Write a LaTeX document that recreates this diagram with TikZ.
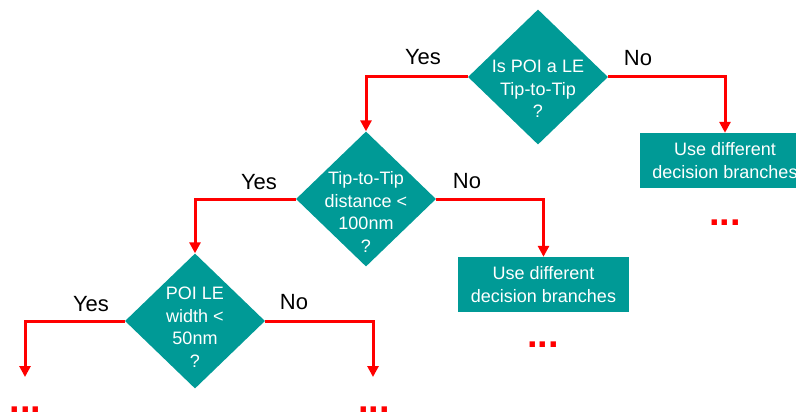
\documentclass[tikz,border=0pt]{standalone}
\usepackage{fontspec}
\setmainfont{Liberation Sans}
\usetikzlibrary{shapes.geometric,arrows.meta}
\definecolor{flowteal}{HTML}{009A96}
\definecolor{flowred}{HTML}{FF0000}
\begin{document}
\begin{tikzpicture}[x=1pt,y=-1pt,
  decision/.style={diamond, fill=flowteal, minimum width=140pt, minimum height=135pt, inner sep=0pt},
  qtext/.style={text=white, font=\fontsize{18}{22.5}\selectfont, align=center},
  outcome/.style={rectangle, fill=flowteal, minimum width=171pt, minimum height=55pt, inner sep=0pt,
    text=white, font=\fontsize{18}{22.5}\selectfont, align=center},
  flow/.style={draw=flowred, line width=3pt, -{Triangle[width=11pt,length=11pt]}},
  answer/.style={font=\fontsize{22}{26}\selectfont, inner sep=0pt},
  more/.style={text=flowred, font=\bfseries\fontsize{38}{38}\selectfont, anchor=base, inner sep=0pt}]
\clip (0,0) rectangle (796,412);

% decision diamonds
\node[decision, label={[qtext, yshift=-12pt]center:Is POI a LE\\Tip-to-Tip\\?}] (q1) at (538,77) {};
\node[decision, label={[qtext, yshift=-13pt]center:Tip-to-Tip\\distance <\\100nm\\?}] (q2) at (366,199) {};
\node[decision, label={[qtext, yshift=-6pt]center:POI LE\\width <\\50nm\\?}] (q3) at (195,321) {};

% outcome boxes
\node[outcome] (b1) at (725,160.5) {Use different\\decision branches};
\node[outcome] (b2) at (543.5,284.5) {Use different\\decision branches};

% open ends of the last decision
\coordinate (e1) at (25,377);
\coordinate (e2) at (373,377);

% connectors
\draw[flow] (q1.east) -| (b1.north);
\draw[flow] (q1.west) -| (q2.north);
\draw[flow] (q2.east) -| (b2.north);
\draw[flow] (q2.west) -| (q3.north);
\draw[flow] (q3.west) -| (e1);
\draw[flow] (q3.east) -| (e2);

% branch answers
\node[answer] (y1) at (423,57) {Yes};
\node[answer] (n1) at (638,58) {No};
\node[answer] (y2) at (259,182) {Yes};
\node[answer] (n2) at (467,181) {No};
\node[answer] (y3) at (91,304) {Yes};
\node[answer] (n3) at (294,302) {No};

% continuation marks
\node[more] (m1) at (725,225.5) {...};
\node[more] (m2) at (543,347) {...};
\node[more] (m3) at (25.5,412) {...};
\node[more] (m4) at (374,412) {...};
\end{tikzpicture}
\end{document}
